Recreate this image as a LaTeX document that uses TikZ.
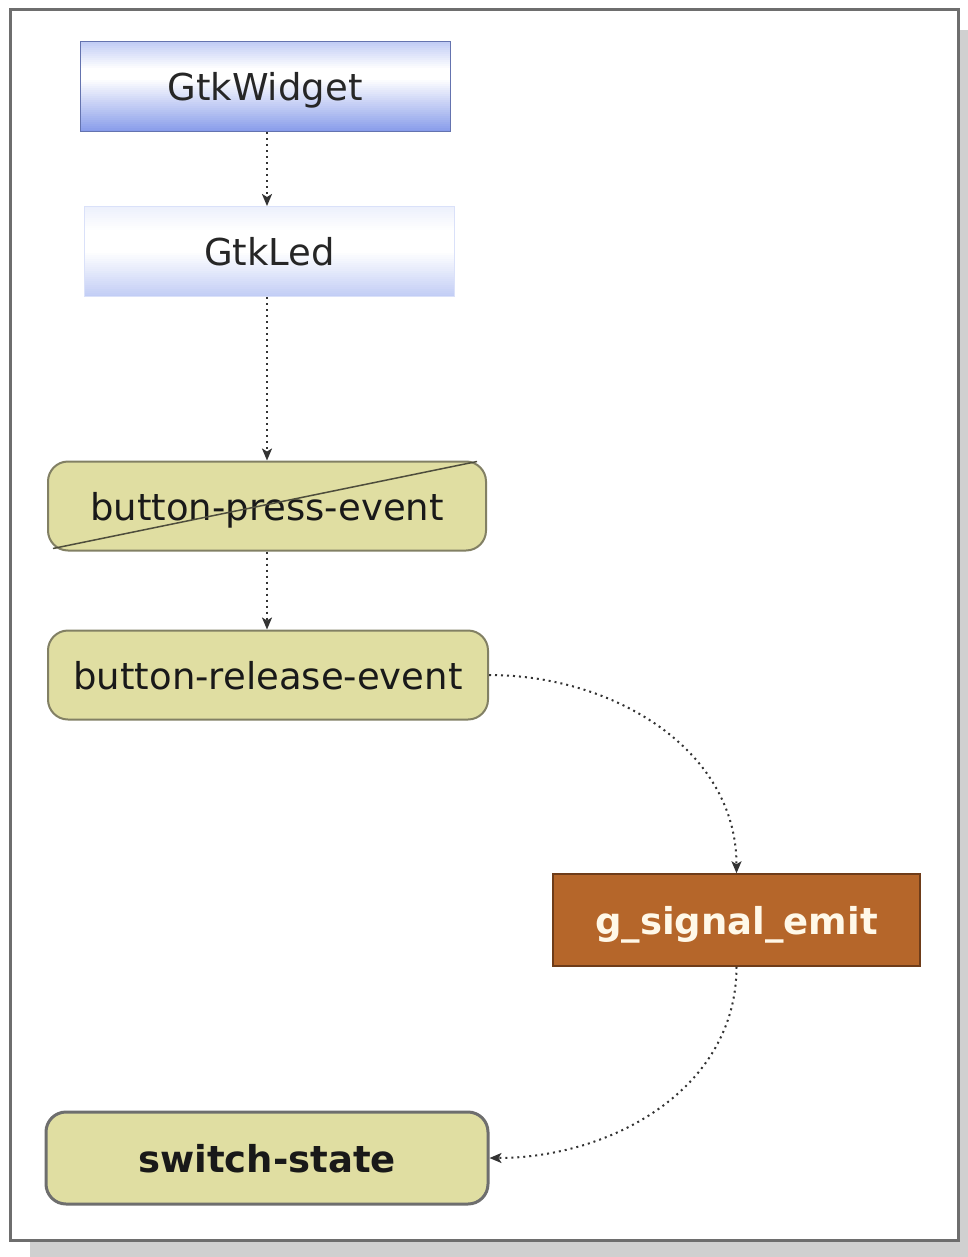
\documentclass[tikz,border=0pt]{standalone}
\usepackage{fontspec}
\setmainfont{DejaVu Sans}
\usetikzlibrary{arrows.meta}
\definecolor{khaki}{RGB}{224,222,162}
\definecolor{khakiline}{RGB}{130,128,100}
\definecolor{brownbox}{RGB}{181,102,42}
\definecolor{brownline}{RGB}{110,60,25}
\definecolor{bluedark}{RGB}{136,156,234}
\definecolor{bluelight}{RGB}{194,205,245}
\definecolor{bluepale}{RGB}{236,240,252}
\definecolor{blueline}{RGB}{100,115,175}
\definecolor{creamtext}{RGB}{255,248,232}
\definecolor{framegray}{RGB}{110,110,110}
\definecolor{shadowgray}{RGB}{208,208,208}
\tikzset{
  gtkbox/.style={rectangle, inner sep=0pt, minimum width=370pt, minimum height=90pt,
    draw=blueline, line width=1pt, font=\fontsize{37pt}{40pt}\selectfont, text=black!85,
    text height=30pt, text depth=2pt},
  evbox/.style={rectangle, rounded corners=20pt, inner sep=0pt, minimum height=89pt,
    fill=khaki, draw=khakiline, line width=2pt, font=\fontsize{37pt}{40pt}\selectfont, text=black!90,
    text height=28pt, text depth=0pt},
  emitbox/.style={rectangle, inner sep=0pt, minimum width=367pt, minimum height=92pt,
    fill=brownbox, draw=brownline, line width=1.5pt, font=\bfseries\fontsize{37pt}{40pt}\selectfont, text=creamtext,
    text height=28pt, text depth=0pt},
  conn/.style={draw=black!80, line width=2pt, dash pattern=on 2pt off 4pt,
    -{Stealth[length=12pt,width=10pt,inset=3pt]}},
}
\begin{document}
\begin{tikzpicture}[x=1pt,y=-1pt]
\useasboundingbox (0,0) rectangle (968,1257);
\fill[shadowgray] (30,30) rectangle (968,1257);
\draw[framegray, fill=white, line width=3pt] (10,10) rectangle (958,1240);

% gradient fills of the two class boxes
\foreach \yy in {0,2,...,88}{
  \pgfmathtruncatemacro\pa{max(0,100*(1-\yy/26))}
  \pgfmathtruncatemacro\pb{max(0,100*(\yy-36)/52)}
  \colorlet{stripA}{bluelight!\pa!white}
  \colorlet{stripB}{bluedark!\pb!stripA}
  \fill[stripB] (80,42+\yy) rectangle (450,44.4+\yy);
  \pgfmathtruncatemacro\qa{max(0,100*(1-\yy/24))}
  \pgfmathtruncatemacro\qb{max(0,100*(\yy-44)/44)}
  \colorlet{stripC}{bluepale!\qa!white}
  \colorlet{stripD}{bluelight!\qb!stripC}
  \fill[stripD] (84.5,206.5+\yy) rectangle (454.5,208.9+\yy);
}

\node[gtkbox] (w) at (265,87) {GtkWidget};
\node[gtkbox, draw=bluelight!60] (led) at (269.5,251.5) {GtkLed};
\node[evbox, minimum width=438pt] (bpe) at (267,506) {button-press-event};
\draw[khakiline!60!black, line width=1.5pt] ([xshift=6pt,yshift=3pt]bpe.south west) -- ([xshift=-10pt,yshift=-1pt]bpe.north east);
\node[evbox, minimum width=440pt] (bre) at (268,675) {button-release-event};
\node[emitbox] (gse) at (736.5,920) {g\_signal\_emit};
\node[evbox, minimum width=442pt, minimum height=92pt, draw=framegray, line width=3pt, font=\bfseries\fontsize{37pt}{40pt}\selectfont] (sw) at (267,1158) {switch-state};

\draw[conn] (w.south -| 267,0) -- (led.north -| 267,0);
\draw[conn] (led.south -| 267,0) -- (bpe.north -| 267,0);
\draw[conn] (bpe.south -| 267,0) -- (bre.north -| 267,0);
\draw[conn] (bre.east) to[out=0,in=90] (gse.north);
\draw[conn] (gse.south) to[out=-90,in=0] (sw.east);
\end{tikzpicture}
\end{document}
